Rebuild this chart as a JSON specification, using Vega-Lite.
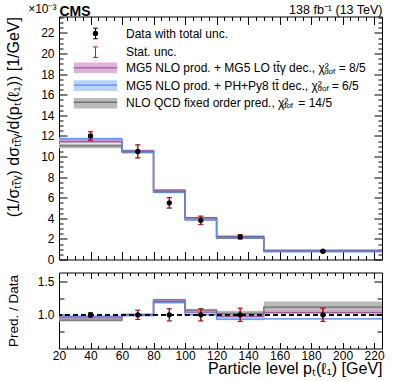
{
"$schema": "https://vega.github.io/schema/vega-lite/v6.json",
"autosize": {"type": "pad"},
"padding": {"left": 4, "top": 1.5, "right": 5, "bottom": 5},
"bounds": "flush",
"spacing": 13,
"config": {
 "view": {"stroke": "black", "strokeWidth": 1},
 "font": "Liberation Sans",
 "axis": {"domain": false, "grid": false, "labelFont": "Liberation Sans", "labelFontSize": 12, "labelColor": "black", "titleFont": "Liberation Sans", "titleFontSize": 13, "titleFontWeight": "normal", "titleColor": "black", "tickColor": "black", "tickWidth": 1, "labelFlush": false, "labelOverlap": false},
 "legend": {"labelFont": "Liberation Sans", "labelColor": "black", "labelLimit": 400, "title": null, "padding": 0, "orient": "none"}
},
"datasets": {
 "bands": [
  {"series":"nlo","x0":20,"x1":60,"lo":10.8,"hi":11.25,"rlo":0.9,"rhi":0.938},
  {"series":"nlo","x0":60,"x1":80,"lo":10.45,"hi":10.65,"rlo":0.995,"rhi":1.015},
  {"series":"nlo","x0":80,"x1":100,"lo":6.66,"hi":6.82,"rlo":1.21,"rhi":1.24},
  {"series":"nlo","x0":100,"x1":120,"lo":3.99,"hi":4.14,"rlo":1.05,"rhi":1.09},
  {"series":"nlo","x0":120,"x1":150,"lo":2.17,"hi":2.33,"rlo":0.985,"rhi":1.06},
  {"series":"nlo","x0":150,"x1":225,"lo":0.84,"hi":0.96,"rlo":1.05,"rhi":1.2},
  {"series":"mg5","x0":20,"x1":60,"lo":11.3,"hi":11.62,"rlo":0.94,"rhi":0.97},
  {"series":"mg5","x0":60,"x1":80,"lo":10.35,"hi":10.65,"rlo":0.985,"rhi":1.015},
  {"series":"mg5","x0":80,"x1":100,"lo":6.5,"hi":6.7,"rlo":1.185,"rhi":1.215},
  {"series":"mg5","x0":100,"x1":120,"lo":3.89,"hi":4.01,"rlo":1.025,"rhi":1.055},
  {"series":"mg5","x0":120,"x1":150,"lo":2.11,"hi":2.19,"rlo":0.96,"rhi":0.99},
  {"series":"mg5","x0":150,"x1":225,"lo":0.81,"hi":0.85,"rlo":1.015,"rhi":1.06},
  {"series":"ph","x0":20,"x1":60,"lo":11.55,"hi":11.85,"rlo":0.96,"rhi":0.99},
  {"series":"ph","x0":60,"x1":80,"lo":10.25,"hi":10.55,"rlo":0.975,"rhi":1.005},
  {"series":"ph","x0":80,"x1":100,"lo":6.42,"hi":6.62,"rlo":1.17,"rhi":1.2},
  {"series":"ph","x0":100,"x1":120,"lo":3.76,"hi":3.88,"rlo":0.99,"rhi":1.02},
  {"series":"ph","x0":120,"x1":150,"lo":2.03,"hi":2.09,"rlo":0.92,"rhi":0.95},
  {"series":"ph","x0":150,"x1":225,"lo":0.74,"hi":0.76,"rlo":0.93,"rhi":0.95}
 ],
 "steps": [
  {"curve":"l_nlo","x":20,"v":11.04,"r":0.92},
  {"curve":"l_nlo","x":60,"v":10.55,"r":1.005},
  {"curve":"l_nlo","x":80,"v":6.74,"r":1.225},
  {"curve":"l_nlo","x":100,"v":4.07,"r":1.07},
  {"curve":"l_nlo","x":120,"v":2.24,"r":1.02},
  {"curve":"l_nlo","x":150,"v":0.89,"r":1.115},
  {"curve":"l_nlo","x":225,"v":0.89,"r":1.115},
  {"curve":"l_mg5","x":20,"v":11.46,"r":0.955},
  {"curve":"l_mg5","x":60,"v":10.5,"r":1.0},
  {"curve":"l_mg5","x":80,"v":6.6,"r":1.2},
  {"curve":"l_mg5","x":100,"v":3.95,"r":1.04},
  {"curve":"l_mg5","x":120,"v":2.15,"r":0.975},
  {"curve":"l_mg5","x":150,"v":0.83,"r":1.035},
  {"curve":"l_mg5","x":225,"v":0.83,"r":1.035},
  {"curve":"l_ph","x":20,"v":11.7,"r":0.975},
  {"curve":"l_ph","x":60,"v":10.4,"r":0.99},
  {"curve":"l_ph","x":80,"v":6.52,"r":1.185},
  {"curve":"l_ph","x":100,"v":3.82,"r":1.005},
  {"curve":"l_ph","x":120,"v":2.06,"r":0.935},
  {"curve":"l_ph","x":150,"v":0.75,"r":0.94},
  {"curve":"l_ph","x":225,"v":0.75,"r":0.94}
 ],
 "meas": [
  {"x":40,"y":12.0,"tl":11.58,"th":12.42,"sl":11.61,"sh":12.39,"one":1,"rtl":0.966,"rth":1.034,"rsl":0.98,"rsh":1.02},
  {"x":70,"y":10.5,"tl":9.85,"th":11.15,"sl":9.9,"sh":11.1,"one":1,"rtl":0.93,"rth":1.07,"rsl":0.933,"rsh":1.067},
  {"x":90,"y":5.5,"tl":4.98,"th":6.02,"sl":5.02,"sh":5.98,"one":1,"rtl":0.908,"rth":1.092,"rsl":0.911,"rsh":1.089},
  {"x":110,"y":3.8,"tl":3.38,"th":4.22,"sl":3.41,"sh":4.19,"one":1,"rtl":0.908,"rth":1.092,"rsl":0.911,"rsh":1.089},
  {"x":135,"y":2.2,"tl":1.98,"th":2.42,"sl":2.0,"sh":2.4,"one":1,"rtl":0.9,"rth":1.1,"rsl":0.903,"rsh":1.097},
  {"x":187.5,"y":0.8,"tl":0.72,"th":0.88,"sl":0.73,"sh":0.87,"one":1,"rtl":0.9,"rth":1.1,"rsl":0.903,"rsh":1.097}
 ]
},
"resolve": {
 "scale": {"fill": "independent", "stroke": "independent", "color": "independent", "shape": "independent"},
 "legend": {"fill": "independent", "stroke": "independent", "color": "independent", "shape": "independent"}
},
"vconcat": [
 {
  "width": 323, "height": 243,
  "resolve": {"axis": {"x": "independent", "y": "independent"}},
  "layer": [
   {
    "data": {"name": "bands"},
    "mark": {"type": "rect", "strokeWidth": 0},
    "encoding": {
     "x": {"field": "x0", "type": "quantitative", "scale": {"domain": [20, 225], "nice": false, "zero": false},
      "axis": {"orient": "bottom", "values": [20,40,60,80,100,120,140,160,180,200,220], "labels": false, "tickSize": -8, "title": null}},
     "x2": {"field": "x1"},
     "y": {"field": "lo", "type": "quantitative", "scale": {"domain": [0, 23.6], "nice": false, "zero": false},
      "axis": {"orient": "left", "values": [0,2,4,6,8,10,12,14,16,18,20,22], "tickSize": -8, "labelPadding": 13, "format": "d",
       "title": "(1/σₜₜ̄ᵧ) dσₜₜ̄ᵧ/d(pₜ(ℓ₁)) [1/GeV]", "titleFontSize": 16, "titleAnchor": "end", "titleX": -46, "titleBaseline": "middle"}},
     "y2": {"field": "hi"},
     "fill": {"field": "series", "type": "nominal",
      "scale": {"domain": ["mg5","ph","nlo"], "range": ["#dcb4d7","#b9d2fa","#bababa"]},
      "legend": {
       "legendX": 28, "legendY": 42.9,
       "symbolType": "M-2.71,-0.66H2.71V0.66H-2.71Z",
       "symbolSize": 256, "symbolStrokeWidth": 1, "symbolOffset": 0, "labelOffset": 22, "rowPadding": 2.7,
       "labelFontSize": 12,
       "labelExpr": "datum.value == 'mg5' ? 'MG5 NLO prod. + MG5 LO tt̄γ dec., χ²\u00a0\u00a0\u00a0= 8/5' : datum.value == 'ph' ? 'MG5 NLO prod. + PH+Py8 tt̄ dec., χ²\u00a0\u00a0\u00a0= 6/5' : 'NLO QCD fixed order pred., χ²\u00a0\u00a0\u00a0= 14/5'"
      }}
    }
   },
   {
    "data": {"name": "steps"},
    "mark": {"type": "line", "interpolate": "step-after", "strokeWidth": 1.4},
    "encoding": {
     "x": {"field": "x", "type": "quantitative",
      "axis": {"orient": "bottom", "values": [25,30,35,45,50,55,65,70,75,85,90,95,105,110,115,125,130,135,145,150,155,165,170,175,185,190,195,205,210,215], "labels": false, "tickSize": -4, "title": null}},
     "y": {"field": "v", "type": "quantitative",
      "axis": {"orient": "left", "values": [0.5,1,1.5,2.5,3,3.5,4.5,5,5.5,6.5,7,7.5,8.5,9,9.5,10.5,11,11.5,12.5,13,13.5,14.5,15,15.5,16.5,17,17.5,18.5,19,19.5,20.5,21,21.5,22.5,23,23.5], "labels": false, "tickSize": -4, "title": null}},
     "stroke": {"field": "curve", "type": "nominal",
      "scale": {"domain": ["l_mg5","l_ph","l_nlo"], "range": ["#a555a0","#5a8cf0","#707070"]},
      "legend": {
       "legendX": 27.5, "legendY": 42.4, "zindex": 2,
       "symbolType": "M-2.71,0H2.71",
       "symbolSize": 256, "symbolStrokeWidth": 1.4, "symbolOffset": 0, "labelOffset": 21, "rowPadding": 0.2,
       "labelFontSize": 8, "labelBaseline": "top",
       "labelExpr": "datum.value == 'l_mg5' ? '\u200b\u2003\u2003\u2003\u2003\u2003\u2003\u2003\u2003\u2003\u2003\u2003\u2003\u2003\u2003\u2003\u2003\u2003\u2003\u2003\u2003\u2003\u2003\u2003\u2003\u00a0\u00a0\u00a0dof' : datum.value == 'l_ph' ? '\u200b\u2003\u2003\u2003\u2003\u2003\u2003\u2003\u2003\u2003\u2003\u2003\u2003\u2003\u2003\u2003\u2003\u2003\u2003\u2003\u2003\u2003\u2003\u2003\u2003dof' : '\u200b\u2003\u2003\u2003\u2003\u2003\u2003\u2003\u2003\u2003\u2003\u2003\u2003\u2003\u2003\u2003\u2003\u2003\u2003\u2003\u00a0\u00a0dof'"
      }}
    }
   },
   {
    "data": {"name": "meas"},
    "mark": {"type": "rule", "strokeWidth": 1},
    "encoding": {
     "x": {"field": "x", "type": "quantitative",
      "axis": {"orient": "top", "values": [20,40,60,80,100,120,140,160,180,200,220], "labels": false, "tickSize": -8,
       "title": "CMS", "titleFontWeight": "bold", "titleFontSize": 14, "titleX": 0, "titleY": -1, "titleAlign": "left", "titleBaseline": "alphabetic"}},
     "y": {"field": "tl", "type": "quantitative",
      "axis": {"orient": "right", "values": [0,2,4,6,8,10,12,14,16,18,20,22], "labels": false, "tickSize": -8, "title": null}},
     "y2": {"field": "th"},
     "color": {"datum": "data", "type": "nominal",
      "scale": {"domain": ["data","stat"], "range": ["black","red"]},
      "legend": {
       "legendX": 28, "legendY": 8.5,
       "symbolType": "M0,-0.66L0,0.66M-0.3,-0.66L0.3,-0.66M-0.3,0.66L0.3,0.66",
       "symbolSize": 256, "symbolStrokeWidth": 1, "symbolOffset": 0, "labelOffset": 22, "rowPadding": 2.7,
       "labelFontSize": 12,
       "labelExpr": "datum.value == 'data' ? 'Data with total unc.' : 'Stat. unc.'"
      }}
    }
   },
   {
    "data": {"name": "meas"},
    "mark": {"type": "tick", "orient": "horizontal", "color": "black", "size": 5, "thickness": 1},
    "encoding": {
     "x": {"field": "x", "type": "quantitative",
      "axis": {"orient": "top", "ticks": false, "labels": false, "title": "138 fb⁻¹ (13 TeV)", "titleFontSize": 12.5, "titleX": 323, "titleY": -3, "titleAlign": "right", "titleBaseline": "alphabetic"}},
     "y": {"field": "tl", "type": "quantitative", "axis": null}
    }
   },
   {
    "data": {"name": "meas"},
    "mark": {"type": "tick", "orient": "horizontal", "color": "black", "size": 5, "thickness": 1},
    "encoding": {
     "x": {"field": "x", "type": "quantitative", "axis": null},
     "y": {"field": "th", "type": "quantitative", "axis": null}
    }
   },
   {
    "data": {"name": "meas"},
    "mark": {"type": "rule", "strokeWidth": 1},
    "encoding": {
     "x": {"field": "x", "type": "quantitative",
      "axis": {"orient": "top", "values": [25,30,35,45,50,55,65,70,75,85,90,95,105,110,115,125,130,135,145,150,155,165,170,175,185,190,195,205,210,215], "labels": false, "tickSize": -4,
       "title": "×10⁻³", "titleFontSize": 12, "titleX": -3, "titleY": -4, "titleAlign": "right", "titleBaseline": "alphabetic"}},
     "y": {"field": "sl", "type": "quantitative",
      "axis": {"orient": "right", "values": [0.5,1,1.5,2.5,3,3.5,4.5,5,5.5,6.5,7,7.5,8.5,9,9.5,10.5,11,11.5,12.5,13,13.5,14.5,15,15.5,16.5,17,17.5,18.5,19,19.5,20.5,21,21.5,22.5,23,23.5], "labels": false, "tickSize": -4, "title": null}},
     "y2": {"field": "sh"},
     "color": {"datum": "stat", "type": "nominal"}
    }
   },
   {
    "data": {"name": "meas"},
    "mark": {"type": "tick", "orient": "horizontal", "color": "red", "size": 5, "thickness": 1},
    "encoding": {
     "x": {"field": "x", "type": "quantitative", "axis": null},
     "y": {"field": "sl", "type": "quantitative", "axis": null}
    }
   },
   {
    "data": {"name": "meas"},
    "mark": {"type": "tick", "orient": "horizontal", "color": "red", "size": 5, "thickness": 1},
    "encoding": {
     "x": {"field": "x", "type": "quantitative", "axis": null},
     "y": {"field": "sh", "type": "quantitative", "axis": null}
    }
   },
   {
    "data": {"name": "meas"},
    "mark": {"type": "point", "filled": true, "color": "black", "size": 28, "opacity": 1},
    "encoding": {
     "x": {"field": "x", "type": "quantitative", "axis": null},
     "y": {"field": "y", "type": "quantitative", "axis": null},
     "shape": {"datum": "data", "type": "nominal",
      "scale": {"domain": ["data"], "range": ["circle"]},
      "legend": {
       "legendX": 30.5, "legendY": 11,
       "symbolSize": 28, "symbolFillColor": "black", "symbolStrokeColor": "black", "symbolStrokeWidth": 0,
       "symbolOffset": 0, "labelOffset": 5, "labelFontSize": 12,
       "labelExpr": "'\u200b\u00a0'"
      }}
    }
   }
  ]
 },
 {
  "width": 323, "height": 76,
  "resolve": {"axis": {"x": "independent", "y": "independent"}},
  "layer": [
   {
    "data": {"name": "bands"},
    "mark": {"type": "rect", "strokeWidth": 0},
    "encoding": {
     "x": {"field": "x0", "type": "quantitative", "scale": {"domain": [20, 225], "nice": false, "zero": false},
      "axis": {"orient": "bottom", "values": [20,40,60,80,100,120,140,160,180,200,220], "tickSize": -6, "labelPadding": 8, "format": "d",
       "title": "Particle level pₜ(ℓ₁) [GeV]", "titleFontSize": 16, "titleX": 323, "titleY": 25, "titleAlign": "right", "titleBaseline": "alphabetic"}},
     "x2": {"field": "x1"},
     "y": {"field": "rlo", "type": "quantitative", "scale": {"domain": [0.495, 1.635], "nice": false, "zero": false},
      "axis": {"orient": "left", "values": [1, 1.5], "tickSize": -8, "labelPadding": 13,
       "title": "Pred. / Data", "titleFontSize": 13.5, "titleAnchor": "middle", "titleX": -46, "titleBaseline": "middle"}},
     "y2": {"field": "rhi"},
     "fill": {"field": "series", "type": "nominal",
      "scale": {"domain": ["mg5","ph","nlo"], "range": ["#dcb4d7","#b9d2fa","#bababa"]}, "legend": null}
    }
   },
   {
    "data": {"name": "steps"},
    "mark": {"type": "line", "interpolate": "step-after", "strokeWidth": 1.4},
    "encoding": {
     "x": {"field": "x", "type": "quantitative",
      "axis": {"orient": "bottom", "values": [25,30,35,45,50,55,65,70,75,85,90,95,105,110,115,125,130,135,145,150,155,165,170,175,185,190,195,205,210,215], "labels": false, "tickSize": -3, "title": null}},
     "y": {"field": "r", "type": "quantitative",
      "axis": {"orient": "left", "values": [0.75, 1.25], "labels": false, "tickSize": -5, "title": null}},
     "stroke": {"field": "curve", "type": "nominal",
      "scale": {"domain": ["l_mg5","l_ph","l_nlo"], "range": ["#a555a0","#5a8cf0","#707070"]}, "legend": null}
    }
   },
   {
    "data": {"name": "meas"},
    "mark": {"type": "rule", "color": "black", "strokeWidth": 1, "strokeDash": [5, 3]},
    "encoding": {
     "y": {"datum": 1, "type": "quantitative",
      "axis": {"orient": "right", "values": [1, 1.5], "labels": false, "tickSize": -8, "title": null}}
    }
   },
   {
    "data": {"name": "meas"},
    "mark": {"type": "rule", "color": "black", "strokeWidth": 1},
    "encoding": {
     "x": {"field": "x", "type": "quantitative",
      "axis": {"orient": "top", "values": [20,40,60,80,100,120,140,160,180,200,220], "labels": false, "tickSize": -6, "title": null}},
     "y": {"field": "rtl", "type": "quantitative",
      "axis": {"orient": "right", "values": [0.75, 1.25], "labels": false, "tickSize": -5, "title": null}},
     "y2": {"field": "rth"}
    }
   },
   {
    "data": {"name": "meas"},
    "mark": {"type": "tick", "orient": "horizontal", "color": "black", "size": 5, "thickness": 1},
    "encoding": {
     "x": {"field": "x", "type": "quantitative", "axis": null},
     "y": {"field": "rtl", "type": "quantitative", "axis": null}
    }
   },
   {
    "data": {"name": "meas"},
    "mark": {"type": "tick", "orient": "horizontal", "color": "black", "size": 5, "thickness": 1},
    "encoding": {
     "x": {"field": "x", "type": "quantitative", "axis": null},
     "y": {"field": "rth", "type": "quantitative", "axis": null}
    }
   },
   {
    "data": {"name": "meas"},
    "mark": {"type": "rule", "color": "red", "strokeWidth": 1},
    "encoding": {
     "x": {"field": "x", "type": "quantitative",
      "axis": {"orient": "top", "values": [25,30,35,45,50,55,65,70,75,85,90,95,105,110,115,125,130,135,145,150,155,165,170,175,185,190,195,205,210,215], "labels": false, "tickSize": -3, "title": null}},
     "y": {"field": "rsl", "type": "quantitative", "axis": null},
     "y2": {"field": "rsh"}
    }
   },
   {
    "data": {"name": "meas"},
    "mark": {"type": "tick", "orient": "horizontal", "color": "red", "size": 5, "thickness": 1},
    "encoding": {
     "x": {"field": "x", "type": "quantitative", "axis": null},
     "y": {"field": "rsl", "type": "quantitative", "axis": null}
    }
   },
   {
    "data": {"name": "meas"},
    "mark": {"type": "tick", "orient": "horizontal", "color": "red", "size": 5, "thickness": 1},
    "encoding": {
     "x": {"field": "x", "type": "quantitative", "axis": null},
     "y": {"field": "rsh", "type": "quantitative", "axis": null}
    }
   },
   {
    "data": {"name": "meas"},
    "mark": {"type": "point", "filled": true, "color": "black", "size": 28, "opacity": 1},
    "encoding": {
     "x": {"field": "x", "type": "quantitative", "axis": null},
     "y": {"field": "one", "type": "quantitative", "axis": null}
    }
   }
  ]
 }
]
}
